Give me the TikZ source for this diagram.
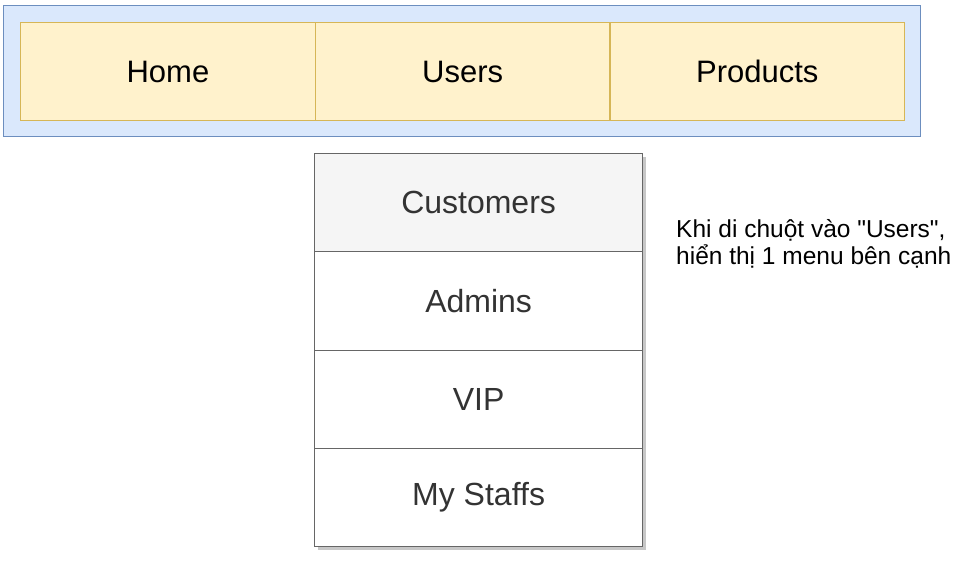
\documentclass[tikz,border=0pt]{standalone}
\usepackage{fontspec}
\setmainfont{Liberation Sans}
\newfontfamily\notefont{Liberation Sans}
\definecolor{barfill}{HTML}{DAE8FC}
\definecolor{barstroke}{HTML}{6C8EBF}
\definecolor{cellfill}{HTML}{FFF2CC}
\definecolor{cellstroke}{HTML}{D6B656}
\definecolor{itemstroke}{HTML}{666666}
\definecolor{itemtext}{HTML}{333333}
\definecolor{itemhead}{HTML}{F5F5F5}
\begin{document}
\begin{tikzpicture}[x=1pt,y=-1pt,
  barbox/.style={draw=barstroke, fill=barfill, line width=1.2pt, minimum width=917pt, minimum height=131pt, inner sep=0pt, anchor=north west},
  cellbox/.style={draw=cellstroke, fill=cellfill, line width=1.2pt, minimum width=294.67pt, minimum height=98pt, inner sep=0pt, anchor=north west, font=\fontsize{31}{37}\selectfont, text=black},
  itembox/.style={draw=itemstroke, fill=white, line width=1.2pt, minimum width=328pt, minimum height=98.25pt, inner sep=0pt, anchor=north west, font=\fontsize{32}{38}\selectfont, text=itemtext},
  notetext/.style={anchor=base west, inner sep=0pt, align=left, font=\notefont\fontsize{24.5}{26.5}\selectfont, text=black}]
\useasboundingbox (0,0) rectangle (957,575);
\node[barbox] (bar) at (3,5) {};
\node[cellbox] (home) at (20,22) {Home};
\node[cellbox] (users) at (314.67,22) {Users};
\node[cellbox] (products) at (609.33,22) {Products};
% shadow of the dropdown
\fill[black, opacity=0.22] (317.5,156.5) rectangle (645.5,549.5);
\node[itembox, fill=itemhead] (customers) at (314,153) {Customers};
\node[itembox] (admins) at (314,251.25) {Admins};
\node[itembox] (vip) at (314,349.5) {VIP};
\node[itembox] (staffs) at (314,447.75) {My Staffs};
\node[notetext] (note) at (676,264) {Khi di chuột vào "Users",\\hiển thị 1 menu bên cạnh};
\end{tikzpicture}
\end{document}
